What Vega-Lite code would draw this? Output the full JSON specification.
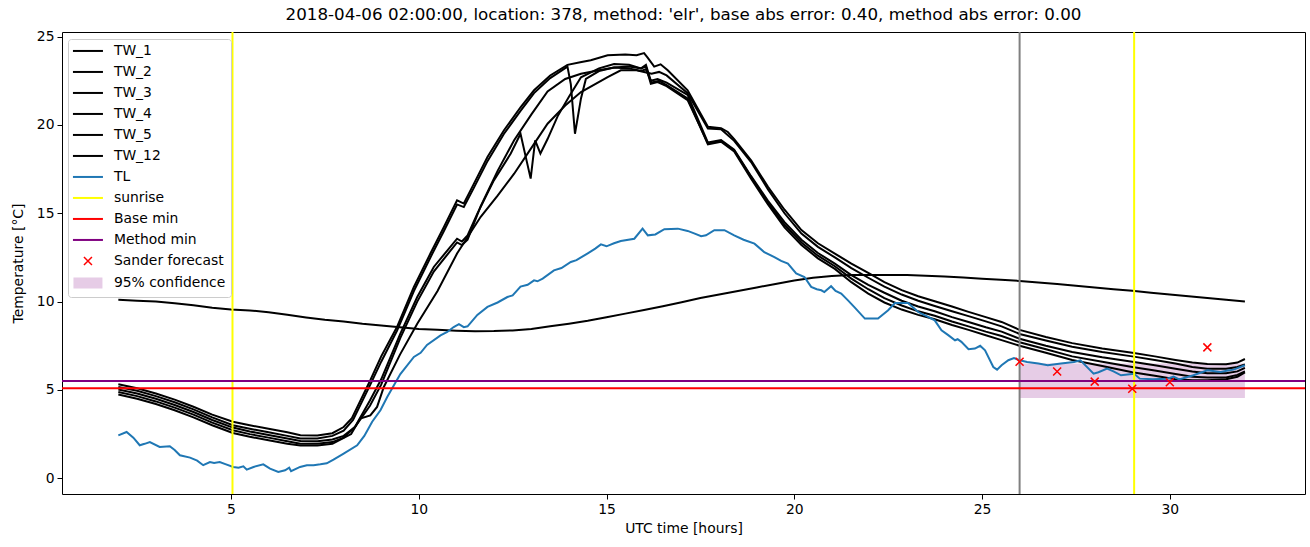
{
"$schema": "https://vega.github.io/schema/vega-lite/v6.json",
"width": 1243, "height": 462,
"autosize": "none",
"padding": {"left": 62, "top": 32, "right": 5, "bottom": 53},
"background": "white",
"title": {"text": "2018-04-06 02:00:00, location: 378, method: 'elr', base abs error: 0.40, method abs error: 0.00", "font": "DejaVu Sans", "fontSize": 16.7, "fontWeight": "normal", "color": "black", "offset": 6, "anchor": "middle"},
"config": {
  "view": {"stroke": "black", "strokeWidth": 1},
  "axis": {"domain": false, "grid": false, "tickColor": "black", "tickSize": 5, "tickWidth": 1, "labelFont": "DejaVu Sans", "labelFontSize": 13.9, "labelColor": "black", "titleFont": "DejaVu Sans", "titleFontSize": 13.9, "titleFontWeight": "normal", "titleColor": "black", "labelPadding": 3}
},
"datasets": {
"tw": [
{"s":"TW_1","h":2,"t":5.32},{"s":"TW_1","h":2.5,"t":5.1},{"s":"TW_1","h":3,"t":4.8},{"s":"TW_1","h":3.5,"t":4.45},{"s":"TW_1","h":4,"t":4.05},{"s":"TW_1","h":4.5,"t":3.6},{"s":"TW_1","h":5.05,"t":3.2},{"s":"TW_1","h":5.5,"t":3.0},{"s":"TW_1","h":6,"t":2.8},{"s":"TW_1","h":6.5,"t":2.6},{"s":"TW_1","h":6.85,"t":2.43},{"s":"TW_1","h":7.3,"t":2.42},{"s":"TW_1","h":7.7,"t":2.55},{"s":"TW_1","h":8.0,"t":2.9},{"s":"TW_1","h":8.22,"t":3.4},{"s":"TW_1","h":8.71,"t":5.55},{"s":"TW_1","h":9.0,"t":6.9},{"s":"TW_1","h":9.42,"t":8.56},{"s":"TW_1","h":9.87,"t":10.83},{"s":"TW_1","h":10.31,"t":12.72},{"s":"TW_1","h":10.67,"t":14.22},{"s":"TW_1","h":11.02,"t":15.73},{"s":"TW_1","h":11.2,"t":15.55},{"s":"TW_1","h":11.47,"t":16.68},{"s":"TW_1","h":11.83,"t":18.18},{"s":"TW_1","h":12.27,"t":19.7},{"s":"TW_1","h":12.71,"t":21.0},{"s":"TW_1","h":13.07,"t":21.96},{"s":"TW_1","h":13.5,"t":22.8},{"s":"TW_1","h":13.96,"t":23.4},{"s":"TW_1","h":14.3,"t":23.55},{"s":"TW_1","h":14.58,"t":23.66},{"s":"TW_1","h":15.03,"t":23.94},{"s":"TW_1","h":15.5,"t":23.98},{"s":"TW_1","h":15.8,"t":23.95},{"s":"TW_1","h":16.0,"t":24.07},{"s":"TW_1","h":16.1,"t":23.8},{"s":"TW_1","h":16.27,"t":23.3},{"s":"TW_1","h":16.44,"t":23.43},{"s":"TW_1","h":16.63,"t":23.09},{"s":"TW_1","h":17.16,"t":21.96},{"s":"TW_1","h":17.7,"t":19.9},{"s":"TW_1","h":18.05,"t":19.82},{"s":"TW_1","h":18.23,"t":19.6},{"s":"TW_1","h":18.4,"t":19.2},{"s":"TW_1","h":18.85,"t":18.0},{"s":"TW_1","h":19.3,"t":16.5},{"s":"TW_1","h":19.74,"t":15.2},{"s":"TW_1","h":20.19,"t":14.05},{"s":"TW_1","h":20.63,"t":13.3},{"s":"TW_1","h":21.08,"t":12.72},{"s":"TW_1","h":21.52,"t":12.15},{"s":"TW_1","h":21.97,"t":11.62},{"s":"TW_1","h":22.4,"t":11.1},{"s":"TW_1","h":22.86,"t":10.65},{"s":"TW_1","h":23.3,"t":10.3},{"s":"TW_1","h":23.74,"t":10.02},{"s":"TW_1","h":24.2,"t":9.72},{"s":"TW_1","h":24.64,"t":9.42},{"s":"TW_1","h":25.1,"t":9.12},{"s":"TW_1","h":25.52,"t":8.85},{"s":"TW_1","h":26,"t":8.4},{"s":"TW_1","h":26.7,"t":8.0},{"s":"TW_1","h":27.4,"t":7.65},{"s":"TW_1","h":28.2,"t":7.35},{"s":"TW_1","h":29,"t":7.1},{"s":"TW_1","h":29.6,"t":6.9},{"s":"TW_1","h":30.15,"t":6.7},{"s":"TW_1","h":30.6,"t":6.55},{"s":"TW_1","h":31,"t":6.47},{"s":"TW_1","h":31.5,"t":6.45},{"s":"TW_1","h":31.8,"t":6.55},{"s":"TW_1","h":32,"t":6.75},
{"s":"TW_2","h":2,"t":5.17},{"s":"TW_2","h":2.5,"t":4.95},{"s":"TW_2","h":3,"t":4.65},{"s":"TW_2","h":3.5,"t":4.3},{"s":"TW_2","h":4,"t":3.9},{"s":"TW_2","h":4.5,"t":3.45},{"s":"TW_2","h":5.05,"t":3.0},{"s":"TW_2","h":5.5,"t":2.8},{"s":"TW_2","h":6,"t":2.6},{"s":"TW_2","h":6.5,"t":2.4},{"s":"TW_2","h":6.85,"t":2.25},{"s":"TW_2","h":7.3,"t":2.25},{"s":"TW_2","h":7.7,"t":2.4},{"s":"TW_2","h":8.0,"t":2.7},{"s":"TW_2","h":8.25,"t":3.3},{"s":"TW_2","h":8.71,"t":5.3},{"s":"TW_2","h":9.0,"t":6.6},{"s":"TW_2","h":9.42,"t":8.35},{"s":"TW_2","h":9.87,"t":10.6},{"s":"TW_2","h":10.31,"t":12.5},{"s":"TW_2","h":10.67,"t":14.0},{"s":"TW_2","h":11.02,"t":15.5},{"s":"TW_2","h":11.2,"t":15.35},{"s":"TW_2","h":11.47,"t":16.45},{"s":"TW_2","h":11.83,"t":17.95},{"s":"TW_2","h":12.27,"t":19.5},{"s":"TW_2","h":12.71,"t":20.8},{"s":"TW_2","h":13.07,"t":21.8},{"s":"TW_2","h":13.5,"t":22.65},{"s":"TW_2","h":13.96,"t":23.3},{"s":"TW_2","h":14.05,"t":22.3},{"s":"TW_2","h":14.16,"t":19.5},{"s":"TW_2","h":14.32,"t":21.5},{"s":"TW_2","h":14.45,"t":22.6},{"s":"TW_2","h":14.8,"t":23.05},{"s":"TW_2","h":15.2,"t":23.25},{"s":"TW_2","h":15.6,"t":23.3},{"s":"TW_2","h":15.92,"t":23.2},{"s":"TW_2","h":16.05,"t":23.4},{"s":"TW_2","h":16.18,"t":22.5},{"s":"TW_2","h":16.36,"t":22.6},{"s":"TW_2","h":16.6,"t":22.4},{"s":"TW_2","h":17.16,"t":21.7},{"s":"TW_2","h":17.7,"t":19.0},{"s":"TW_2","h":18.05,"t":19.15},{"s":"TW_2","h":18.4,"t":18.6},{"s":"TW_2","h":18.85,"t":17.1},{"s":"TW_2","h":19.3,"t":15.7},{"s":"TW_2","h":19.74,"t":14.5},{"s":"TW_2","h":20.19,"t":13.5},{"s":"TW_2","h":20.63,"t":12.75},{"s":"TW_2","h":21.08,"t":12.15},{"s":"TW_2","h":21.52,"t":11.5},{"s":"TW_2","h":21.97,"t":10.95},{"s":"TW_2","h":22.4,"t":10.5},{"s":"TW_2","h":22.86,"t":10.05},{"s":"TW_2","h":23.3,"t":9.72},{"s":"TW_2","h":23.74,"t":9.45},{"s":"TW_2","h":24.2,"t":9.12},{"s":"TW_2","h":24.64,"t":8.85},{"s":"TW_2","h":25.1,"t":8.55},{"s":"TW_2","h":25.52,"t":8.3},{"s":"TW_2","h":26,"t":7.9},{"s":"TW_2","h":26.7,"t":7.5},{"s":"TW_2","h":27.4,"t":7.15},{"s":"TW_2","h":28.2,"t":6.85},{"s":"TW_2","h":29,"t":6.6},{"s":"TW_2","h":29.6,"t":6.4},{"s":"TW_2","h":30.15,"t":6.2},{"s":"TW_2","h":30.6,"t":6.05},{"s":"TW_2","h":31,"t":5.95},{"s":"TW_2","h":31.5,"t":5.95},{"s":"TW_2","h":31.8,"t":6.05},{"s":"TW_2","h":32,"t":6.25},
{"s":"TW_3","h":2,"t":5.02},{"s":"TW_3","h":2.5,"t":4.8},{"s":"TW_3","h":3,"t":4.5},{"s":"TW_3","h":3.5,"t":4.15},{"s":"TW_3","h":4,"t":3.75},{"s":"TW_3","h":4.5,"t":3.3},{"s":"TW_3","h":5.05,"t":2.87},{"s":"TW_3","h":5.5,"t":2.65},{"s":"TW_3","h":6,"t":2.45},{"s":"TW_3","h":6.5,"t":2.25},{"s":"TW_3","h":6.85,"t":2.11},{"s":"TW_3","h":7.3,"t":2.1},{"s":"TW_3","h":7.7,"t":2.2},{"s":"TW_3","h":8.0,"t":2.4},{"s":"TW_3","h":8.3,"t":2.9},{"s":"TW_3","h":8.7,"t":4.4},{"s":"TW_3","h":9.0,"t":5.6},{"s":"TW_3","h":9.51,"t":8.19},{"s":"TW_3","h":9.96,"t":10.26},{"s":"TW_3","h":10.4,"t":11.96},{"s":"TW_3","h":11.02,"t":13.56},{"s":"TW_3","h":11.15,"t":13.4},{"s":"TW_3","h":11.3,"t":13.75},{"s":"TW_3","h":11.56,"t":14.98},{"s":"TW_3","h":12.0,"t":16.86},{"s":"TW_3","h":12.45,"t":18.38},{"s":"TW_3","h":12.71,"t":19.5},{"s":"TW_3","h":12.98,"t":16.96},{"s":"TW_3","h":13.1,"t":19.13},{"s":"TW_3","h":13.24,"t":18.38},{"s":"TW_3","h":13.43,"t":19.2},{"s":"TW_3","h":13.7,"t":20.5},{"s":"TW_3","h":14.0,"t":21.6},{"s":"TW_3","h":14.32,"t":22.7},{"s":"TW_3","h":14.8,"t":23.2},{"s":"TW_3","h":15.2,"t":23.45},{"s":"TW_3","h":15.6,"t":23.4},{"s":"TW_3","h":15.92,"t":23.2},{"s":"TW_3","h":16.05,"t":23.3},{"s":"TW_3","h":16.18,"t":22.33},{"s":"TW_3","h":16.36,"t":22.43},{"s":"TW_3","h":16.6,"t":22.2},{"s":"TW_3","h":17.16,"t":21.4},{"s":"TW_3","h":17.7,"t":18.95},{"s":"TW_3","h":18.05,"t":19.1},{"s":"TW_3","h":18.4,"t":18.55},{"s":"TW_3","h":18.85,"t":17.05},{"s":"TW_3","h":19.3,"t":15.6},{"s":"TW_3","h":19.74,"t":14.35},{"s":"TW_3","h":20.19,"t":13.35},{"s":"TW_3","h":20.63,"t":12.6},{"s":"TW_3","h":21.08,"t":12.0},{"s":"TW_3","h":21.52,"t":11.3},{"s":"TW_3","h":21.97,"t":10.7},{"s":"TW_3","h":22.4,"t":10.2},{"s":"TW_3","h":22.86,"t":9.78},{"s":"TW_3","h":23.3,"t":9.45},{"s":"TW_3","h":23.74,"t":9.2},{"s":"TW_3","h":24.2,"t":8.87},{"s":"TW_3","h":24.64,"t":8.6},{"s":"TW_3","h":25.1,"t":8.3},{"s":"TW_3","h":25.52,"t":8.05},{"s":"TW_3","h":26,"t":7.7},{"s":"TW_3","h":26.7,"t":7.3},{"s":"TW_3","h":27.4,"t":6.9},{"s":"TW_3","h":28.2,"t":6.6},{"s":"TW_3","h":29,"t":6.3},{"s":"TW_3","h":29.6,"t":6.1},{"s":"TW_3","h":30.15,"t":5.9},{"s":"TW_3","h":30.6,"t":5.75},{"s":"TW_3","h":31,"t":5.7},{"s":"TW_3","h":31.5,"t":5.7},{"s":"TW_3","h":31.8,"t":5.85},{"s":"TW_3","h":32,"t":6.05},
{"s":"TW_4","h":2,"t":4.88},{"s":"TW_4","h":2.5,"t":4.65},{"s":"TW_4","h":3,"t":4.35},{"s":"TW_4","h":3.5,"t":4.0},{"s":"TW_4","h":4,"t":3.6},{"s":"TW_4","h":4.5,"t":3.15},{"s":"TW_4","h":5.05,"t":2.72},{"s":"TW_4","h":5.5,"t":2.5},{"s":"TW_4","h":6,"t":2.3},{"s":"TW_4","h":6.5,"t":2.1},{"s":"TW_4","h":6.85,"t":1.96},{"s":"TW_4","h":7.3,"t":1.95},{"s":"TW_4","h":7.7,"t":2.05},{"s":"TW_4","h":8.0,"t":2.3},{"s":"TW_4","h":8.3,"t":2.9},{"s":"TW_4","h":8.7,"t":4.1},{"s":"TW_4","h":9.0,"t":5.3},{"s":"TW_4","h":9.51,"t":7.95},{"s":"TW_4","h":9.96,"t":10.0},{"s":"TW_4","h":10.4,"t":11.7},{"s":"TW_4","h":11.02,"t":13.35},{"s":"TW_4","h":11.15,"t":13.2},{"s":"TW_4","h":11.3,"t":13.5},{"s":"TW_4","h":11.65,"t":15.4},{"s":"TW_4","h":12.1,"t":17.4},{"s":"TW_4","h":12.54,"t":19.13},{"s":"TW_4","h":13.0,"t":20.6},{"s":"TW_4","h":13.43,"t":21.9},{"s":"TW_4","h":13.9,"t":22.6},{"s":"TW_4","h":14.32,"t":22.9},{"s":"TW_4","h":14.8,"t":23.1},{"s":"TW_4","h":15.2,"t":23.25},{"s":"TW_4","h":15.6,"t":23.2},{"s":"TW_4","h":15.92,"t":23.05},{"s":"TW_4","h":16.05,"t":23.15},{"s":"TW_4","h":16.2,"t":22.4},{"s":"TW_4","h":16.4,"t":22.5},{"s":"TW_4","h":16.6,"t":22.25},{"s":"TW_4","h":17.16,"t":21.5},{"s":"TW_4","h":17.7,"t":18.9},{"s":"TW_4","h":18.05,"t":19.05},{"s":"TW_4","h":18.4,"t":18.5},{"s":"TW_4","h":18.85,"t":16.95},{"s":"TW_4","h":19.3,"t":15.5},{"s":"TW_4","h":19.74,"t":14.2},{"s":"TW_4","h":20.19,"t":13.2},{"s":"TW_4","h":20.63,"t":12.45},{"s":"TW_4","h":21.08,"t":11.85},{"s":"TW_4","h":21.52,"t":11.1},{"s":"TW_4","h":21.97,"t":10.45},{"s":"TW_4","h":22.4,"t":9.95},{"s":"TW_4","h":22.86,"t":9.55},{"s":"TW_4","h":23.3,"t":9.25},{"s":"TW_4","h":23.74,"t":9.0},{"s":"TW_4","h":24.2,"t":8.68},{"s":"TW_4","h":24.64,"t":8.4},{"s":"TW_4","h":25.1,"t":8.1},{"s":"TW_4","h":25.52,"t":7.82},{"s":"TW_4","h":26,"t":7.5},{"s":"TW_4","h":26.7,"t":7.1},{"s":"TW_4","h":27.4,"t":6.7},{"s":"TW_4","h":28.2,"t":6.35},{"s":"TW_4","h":29,"t":6.0},{"s":"TW_4","h":29.6,"t":5.8},{"s":"TW_4","h":30.15,"t":5.6},{"s":"TW_4","h":30.6,"t":5.55},{"s":"TW_4","h":31,"t":5.55},{"s":"TW_4","h":31.5,"t":5.6},{"s":"TW_4","h":31.8,"t":5.75},{"s":"TW_4","h":32,"t":6.0},
{"s":"TW_5","h":2,"t":4.74},{"s":"TW_5","h":2.5,"t":4.5},{"s":"TW_5","h":3,"t":4.2},{"s":"TW_5","h":3.5,"t":3.85},{"s":"TW_5","h":4,"t":3.45},{"s":"TW_5","h":4.5,"t":3.0},{"s":"TW_5","h":5.05,"t":2.56},{"s":"TW_5","h":5.5,"t":2.35},{"s":"TW_5","h":6,"t":2.15},{"s":"TW_5","h":6.5,"t":1.95},{"s":"TW_5","h":6.85,"t":1.85},{"s":"TW_5","h":7.3,"t":1.85},{"s":"TW_5","h":7.7,"t":1.95},{"s":"TW_5","h":8.2,"t":2.5},{"s":"TW_5","h":8.44,"t":3.38},{"s":"TW_5","h":8.71,"t":3.56},{"s":"TW_5","h":8.89,"t":4.04},{"s":"TW_5","h":9.07,"t":5.17},{"s":"TW_5","h":9.5,"t":7.0},{"s":"TW_5","h":9.96,"t":8.75},{"s":"TW_5","h":10.5,"t":10.6},{"s":"TW_5","h":11.02,"t":12.72},{"s":"TW_5","h":11.65,"t":14.8},{"s":"TW_5","h":12.1,"t":16.0},{"s":"TW_5","h":12.54,"t":17.24},{"s":"TW_5","h":13.0,"t":18.7},{"s":"TW_5","h":13.43,"t":20.07},{"s":"TW_5","h":13.9,"t":21.1},{"s":"TW_5","h":14.32,"t":21.86},{"s":"TW_5","h":15.03,"t":22.7},{"s":"TW_5","h":15.38,"t":23.09},{"s":"TW_5","h":15.8,"t":23.1},{"s":"TW_5","h":16.0,"t":23.0},{"s":"TW_5","h":16.2,"t":22.9},{"s":"TW_5","h":16.4,"t":23.0},{"s":"TW_5","h":16.6,"t":22.8},{"s":"TW_5","h":17.16,"t":21.8},{"s":"TW_5","h":17.7,"t":19.8},{"s":"TW_5","h":18.05,"t":19.75},{"s":"TW_5","h":18.4,"t":19.1},{"s":"TW_5","h":18.85,"t":17.9},{"s":"TW_5","h":19.3,"t":16.35},{"s":"TW_5","h":19.74,"t":15.0},{"s":"TW_5","h":20.19,"t":13.85},{"s":"TW_5","h":20.63,"t":13.1},{"s":"TW_5","h":21.08,"t":12.5},{"s":"TW_5","h":21.52,"t":11.9},{"s":"TW_5","h":21.97,"t":11.35},{"s":"TW_5","h":22.4,"t":10.85},{"s":"TW_5","h":22.86,"t":10.4},{"s":"TW_5","h":23.3,"t":10.05},{"s":"TW_5","h":23.74,"t":9.75},{"s":"TW_5","h":24.2,"t":9.45},{"s":"TW_5","h":24.64,"t":9.18},{"s":"TW_5","h":25.1,"t":8.88},{"s":"TW_5","h":25.52,"t":8.6},{"s":"TW_5","h":26,"t":8.17},{"s":"TW_5","h":26.7,"t":7.8},{"s":"TW_5","h":27.4,"t":7.45},{"s":"TW_5","h":28.2,"t":7.15},{"s":"TW_5","h":29,"t":6.9},{"s":"TW_5","h":29.6,"t":6.7},{"s":"TW_5","h":30.15,"t":6.5},{"s":"TW_5","h":30.6,"t":6.3},{"s":"TW_5","h":31,"t":6.2},{"s":"TW_5","h":31.5,"t":6.2},{"s":"TW_5","h":31.8,"t":6.3},{"s":"TW_5","h":32,"t":6.45},
{"s":"TW_12","h":2,"t":10.1},{"s":"TW_12","h":2.5,"t":10.05},{"s":"TW_12","h":3,"t":10.0},{"s":"TW_12","h":3.5,"t":9.9},{"s":"TW_12","h":4,"t":9.8},{"s":"TW_12","h":4.5,"t":9.65},{"s":"TW_12","h":5,"t":9.55},{"s":"TW_12","h":5.5,"t":9.5},{"s":"TW_12","h":6,"t":9.4},{"s":"TW_12","h":6.5,"t":9.25},{"s":"TW_12","h":7,"t":9.1},{"s":"TW_12","h":7.5,"t":8.97},{"s":"TW_12","h":8,"t":8.88},{"s":"TW_12","h":8.5,"t":8.75},{"s":"TW_12","h":9,"t":8.65},{"s":"TW_12","h":9.5,"t":8.55},{"s":"TW_12","h":10,"t":8.45},{"s":"TW_12","h":10.5,"t":8.4},{"s":"TW_12","h":11,"t":8.35},{"s":"TW_12","h":11.5,"t":8.32},{"s":"TW_12","h":12,"t":8.33},{"s":"TW_12","h":12.5,"t":8.37},{"s":"TW_12","h":13,"t":8.45},{"s":"TW_12","h":13.5,"t":8.6},{"s":"TW_12","h":14,"t":8.75},{"s":"TW_12","h":14.5,"t":8.92},{"s":"TW_12","h":15,"t":9.12},{"s":"TW_12","h":15.5,"t":9.32},{"s":"TW_12","h":16,"t":9.52},{"s":"TW_12","h":16.5,"t":9.74},{"s":"TW_12","h":17,"t":9.96},{"s":"TW_12","h":17.5,"t":10.2},{"s":"TW_12","h":18,"t":10.4},{"s":"TW_12","h":18.5,"t":10.6},{"s":"TW_12","h":19,"t":10.8},{"s":"TW_12","h":19.5,"t":11.0},{"s":"TW_12","h":20,"t":11.2},{"s":"TW_12","h":20.5,"t":11.35},{"s":"TW_12","h":21,"t":11.45},{"s":"TW_12","h":21.5,"t":11.5},{"s":"TW_12","h":22,"t":11.5},{"s":"TW_12","h":22.5,"t":11.5},{"s":"TW_12","h":23,"t":11.5},{"s":"TW_12","h":23.5,"t":11.47},{"s":"TW_12","h":24,"t":11.42},{"s":"TW_12","h":24.5,"t":11.37},{"s":"TW_12","h":25,"t":11.3},{"s":"TW_12","h":25.5,"t":11.24},{"s":"TW_12","h":26,"t":11.17},{"s":"TW_12","h":26.5,"t":11.08},{"s":"TW_12","h":27,"t":11.0},{"s":"TW_12","h":27.5,"t":10.9},{"s":"TW_12","h":28,"t":10.8},{"s":"TW_12","h":28.5,"t":10.7},{"s":"TW_12","h":29,"t":10.62},{"s":"TW_12","h":29.5,"t":10.5},{"s":"TW_12","h":30,"t":10.4},{"s":"TW_12","h":30.5,"t":10.3},{"s":"TW_12","h":31,"t":10.2},{"s":"TW_12","h":31.5,"t":10.1},{"s":"TW_12","h":32,"t":10.0}
],
"tl": [
{"s":"TL","h":2.0,"t":2.43},{"s":"TL","h":2.22,"t":2.62},{"s":"TL","h":2.4,"t":2.3},{"s":"TL","h":2.57,"t":1.87},{"s":"TL","h":2.7,"t":1.95},{"s":"TL","h":2.84,"t":2.05},{"s":"TL","h":3.1,"t":1.77},{"s":"TL","h":3.37,"t":1.81},{"s":"TL","h":3.5,"t":1.6},{"s":"TL","h":3.64,"t":1.3},{"s":"TL","h":3.91,"t":1.17},{"s":"TL","h":4.1,"t":1.0},{"s":"TL","h":4.26,"t":0.74},{"s":"TL","h":4.44,"t":0.92},{"s":"TL","h":4.55,"t":0.87},{"s":"TL","h":4.7,"t":0.92},{"s":"TL","h":4.85,"t":0.8},{"s":"TL","h":5.06,"t":0.64},{"s":"TL","h":5.2,"t":0.6},{"s":"TL","h":5.33,"t":0.68},{"s":"TL","h":5.42,"t":0.49},{"s":"TL","h":5.6,"t":0.64},{"s":"TL","h":5.86,"t":0.79},{"s":"TL","h":6.04,"t":0.55},{"s":"TL","h":6.26,"t":0.36},{"s":"TL","h":6.44,"t":0.45},{"s":"TL","h":6.55,"t":0.6},{"s":"TL","h":6.6,"t":0.4},{"s":"TL","h":6.84,"t":0.64},{"s":"TL","h":7.02,"t":0.74},{"s":"TL","h":7.2,"t":0.74},{"s":"TL","h":7.38,"t":0.79},{"s":"TL","h":7.55,"t":0.85},{"s":"TL","h":7.73,"t":1.06},{"s":"TL","h":8.0,"t":1.4},{"s":"TL","h":8.36,"t":1.87},{"s":"TL","h":8.55,"t":2.4},{"s":"TL","h":8.76,"t":3.2},{"s":"TL","h":8.98,"t":3.85},{"s":"TL","h":9.16,"t":4.6},{"s":"TL","h":9.51,"t":5.9},{"s":"TL","h":9.87,"t":6.87},{"s":"TL","h":10.05,"t":7.1},{"s":"TL","h":10.22,"t":7.55},{"s":"TL","h":10.58,"t":8.09},{"s":"TL","h":10.76,"t":8.28},{"s":"TL","h":10.93,"t":8.56},{"s":"TL","h":11.07,"t":8.72},{"s":"TL","h":11.2,"t":8.55},{"s":"TL","h":11.3,"t":8.6},{"s":"TL","h":11.56,"t":9.25},{"s":"TL","h":11.83,"t":9.7},{"s":"TL","h":12.1,"t":9.95},{"s":"TL","h":12.36,"t":10.26},{"s":"TL","h":12.5,"t":10.35},{"s":"TL","h":12.71,"t":10.85},{"s":"TL","h":12.9,"t":10.95},{"s":"TL","h":13.07,"t":11.2},{"s":"TL","h":13.16,"t":11.15},{"s":"TL","h":13.3,"t":11.3},{"s":"TL","h":13.6,"t":11.77},{"s":"TL","h":13.8,"t":11.9},{"s":"TL","h":14.05,"t":12.24},{"s":"TL","h":14.2,"t":12.35},{"s":"TL","h":14.49,"t":12.72},{"s":"TL","h":14.7,"t":13.0},{"s":"TL","h":14.85,"t":13.24},{"s":"TL","h":15.0,"t":13.13},{"s":"TL","h":15.2,"t":13.3},{"s":"TL","h":15.38,"t":13.43},{"s":"TL","h":15.74,"t":13.56},{"s":"TL","h":15.96,"t":14.13},{"s":"TL","h":16.1,"t":13.75},{"s":"TL","h":16.3,"t":13.8},{"s":"TL","h":16.54,"t":14.1},{"s":"TL","h":16.9,"t":14.13},{"s":"TL","h":17.16,"t":14.0},{"s":"TL","h":17.35,"t":13.85},{"s":"TL","h":17.52,"t":13.7},{"s":"TL","h":17.65,"t":13.75},{"s":"TL","h":17.87,"t":14.04},{"s":"TL","h":18.14,"t":14.04},{"s":"TL","h":18.4,"t":13.75},{"s":"TL","h":18.65,"t":13.5},{"s":"TL","h":18.94,"t":13.28},{"s":"TL","h":19.2,"t":12.8},{"s":"TL","h":19.47,"t":12.52},{"s":"TL","h":19.65,"t":12.3},{"s":"TL","h":19.83,"t":12.15},{"s":"TL","h":20.05,"t":11.6},{"s":"TL","h":20.27,"t":11.39},{"s":"TL","h":20.45,"t":10.83},{"s":"TL","h":20.6,"t":10.7},{"s":"TL","h":20.72,"t":10.64},{"s":"TL","h":20.8,"t":10.54},{"s":"TL","h":20.98,"t":10.87},{"s":"TL","h":21.1,"t":10.6},{"s":"TL","h":21.25,"t":10.45},{"s":"TL","h":21.43,"t":10.07},{"s":"TL","h":21.6,"t":9.69},{"s":"TL","h":21.88,"t":9.04},{"s":"TL","h":22.23,"t":9.04},{"s":"TL","h":22.5,"t":9.51},{"s":"TL","h":22.68,"t":9.92},{"s":"TL","h":23.03,"t":9.92},{"s":"TL","h":23.15,"t":9.7},{"s":"TL","h":23.3,"t":9.41},{"s":"TL","h":23.55,"t":9.15},{"s":"TL","h":23.74,"t":8.94},{"s":"TL","h":23.92,"t":8.38},{"s":"TL","h":24.1,"t":8.1},{"s":"TL","h":24.28,"t":7.81},{"s":"TL","h":24.35,"t":7.87},{"s":"TL","h":24.45,"t":7.72},{"s":"TL","h":24.64,"t":7.3},{"s":"TL","h":24.81,"t":7.34},{"s":"TL","h":24.95,"t":7.5},{"s":"TL","h":25.08,"t":7.24},{"s":"TL","h":25.3,"t":6.3},{"s":"TL","h":25.4,"t":6.15},{"s":"TL","h":25.52,"t":6.4},{"s":"TL","h":25.7,"t":6.68},{"s":"TL","h":25.85,"t":6.8},{"s":"TL","h":26.0,"t":6.68},{"s":"TL","h":26.2,"t":6.58},{"s":"TL","h":26.5,"t":6.5},{"s":"TL","h":26.75,"t":6.4},{"s":"TL","h":27.1,"t":6.49},{"s":"TL","h":27.45,"t":6.58},{"s":"TL","h":27.62,"t":6.68},{"s":"TL","h":27.97,"t":5.92},{"s":"TL","h":28.1,"t":6.0},{"s":"TL","h":28.33,"t":6.21},{"s":"TL","h":28.5,"t":6.05},{"s":"TL","h":28.7,"t":5.83},{"s":"TL","h":29.05,"t":5.92},{"s":"TL","h":29.2,"t":5.64},{"s":"TL","h":29.55,"t":5.6},{"s":"TL","h":29.93,"t":5.64},{"s":"TL","h":30.1,"t":5.75},{"s":"TL","h":30.25,"t":5.6},{"s":"TL","h":30.63,"t":5.83},{"s":"TL","h":31.0,"t":6.11},{"s":"TL","h":31.35,"t":6.02},{"s":"TL","h":31.55,"t":6.1},{"s":"TL","h":31.7,"t":6.15},{"s":"TL","h":32.0,"t":6.4}
]
},
"layer": [
{
  "data": {"values": [{"s": "95% confidence", "x0": 26, "x1": 32, "lo": 4.55, "hi": 6.5}]},
  "mark": {"type": "rect"},
  "encoding": {
    "x": {"field": "x0", "type": "quantitative", "scale": {"domain": [0.5, 33.6], "nice": false, "zero": false}, "axis": {"values": [5, 10, 15, 20, 25, 30], "title": "UTC time [hours]", "titlePadding": 6}},
    "x2": {"field": "x1"},
    "y": {"field": "lo", "type": "quantitative", "scale": {"domain": [-0.89, 25.26], "nice": false, "zero": false}, "axis": {"values": [0, 5, 10, 15, 20, 25], "title": "Temperature [°C]", "titlePadding": 11}},
    "y2": {"field": "hi"},
    "color": {"field": "s", "type": "nominal",
      "scale": {"domain": ["TW_1","TW_2","TW_3","TW_4","TW_5","TW_12","TL","sunrise","Base min","Method min","Sander forecast","95% confidence"], "range": ["black","black","black","black","black","black","#1f77b4","yellow","red","purple","red","#e6cce6"]},
      "legend": {"orient": "none", "legendX": 6, "legendY": 7, "title": null, "padding": 5, "rowPadding": 6, "strokeColor": "#cccccc", "fillColor": "#ffffff", "cornerRadius": 3, "symbolSize": 100, "symbolOffset": 8, "labelOffset": 19, "labelFont": "DejaVu Sans", "labelFontSize": 13.9, "labelColor": "black", "labelLimit": 0, "symbolStrokeWidth": 2,
        "encode": {"symbols": {"update": {
          "shape": {"signal": "datum.value === 'Sander forecast' ? 'M-0.8,-0.8L0.8,0.8M-0.8,0.8L0.8,-0.8' : (datum.value === '95% confidence' ? 'M-2.7,-0.9H2.7V0.9H-2.7Z' : 'M-3,0H3')"},
          "fill": {"signal": "datum.value === '95% confidence' ? '#e6cce6' : 'transparent'"},
          "stroke": {"signal": "datum.value === '95% confidence' ? 'transparent' : scale('color', datum.value)"},
          "strokeWidth": {"signal": "datum.value === 'Sander forecast' ? 1.5 : 2"},
          "size": {"value": 100},
          "opacity": {"value": 1}
        }}}}
    }
  }
},
{
  "data": {"name": "tw"},
  "mark": {"type": "line", "strokeWidth": 2},
  "encoding": {
    "x": {"field": "h", "type": "quantitative"},
    "y": {"field": "t", "type": "quantitative"},
    "color": {"field": "s", "type": "nominal"},
    "order": {"field": "h", "type": "quantitative"}
  }
},
{
  "data": {"name": "tl"},
  "mark": {"type": "line", "strokeWidth": 2},
  "encoding": {
    "x": {"field": "h", "type": "quantitative"},
    "y": {"field": "t", "type": "quantitative"},
    "color": {"field": "s", "type": "nominal"}
  }
},
{
  "data": {"values": [{"s": "sunrise", "h": 5.04}, {"s": "sunrise", "h": 29.05}]},
  "mark": {"type": "rule", "strokeWidth": 2},
  "encoding": {
    "x": {"field": "h", "type": "quantitative"},
    "color": {"field": "s", "type": "nominal"}
  }
},
{
  "data": {"values": [{"h": 26}]},
  "mark": {"type": "rule", "strokeWidth": 2, "color": "grey"},
  "encoding": {
    "x": {"field": "h", "type": "quantitative"}
  }
},
{
  "data": {"values": [{"s": "Base min", "t": 5.1}, {"s": "Method min", "t": 5.5}]},
  "mark": {"type": "rule", "strokeWidth": 2},
  "encoding": {
    "y": {"field": "t", "type": "quantitative"},
    "color": {"field": "s", "type": "nominal"}
  }
},
{
  "data": {"values": [{"s": "Sander forecast", "h": 26, "t": 6.6}, {"s": "Sander forecast", "h": 27, "t": 6.04}, {"s": "Sander forecast", "h": 28, "t": 5.47}, {"s": "Sander forecast", "h": 29, "t": 5.07}, {"s": "Sander forecast", "h": 30, "t": 5.43}, {"s": "Sander forecast", "h": 31, "t": 7.41}]},
  "mark": {"type": "point", "shape": "M-1,-1L1,1M-1,1L1,-1", "size": 64, "filled": false, "strokeWidth": 1.5, "opacity": 1},
  "encoding": {
    "x": {"field": "h", "type": "quantitative"},
    "y": {"field": "t", "type": "quantitative"},
    "color": {"field": "s", "type": "nominal"}
  }
}
]
}
